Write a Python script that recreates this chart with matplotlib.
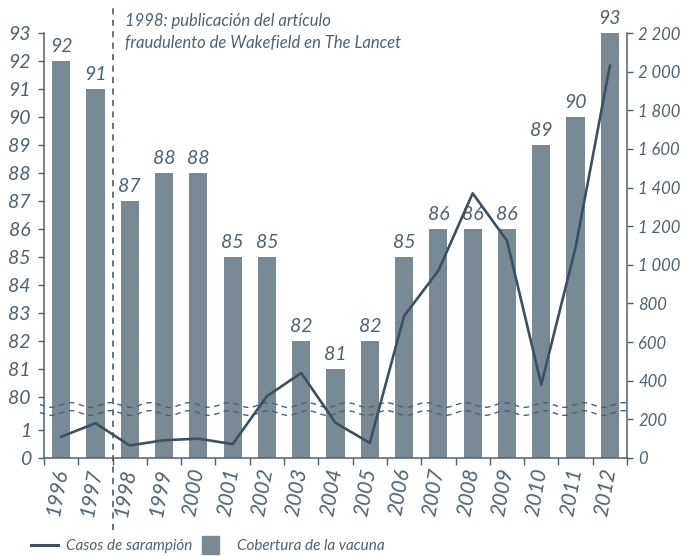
import numpy as np
import matplotlib
matplotlib.use('Agg')
import matplotlib.pyplot as plt
import matplotlib.patches as mpatches
from matplotlib import font_manager
from matplotlib.lines import Line2D
from matplotlib.legend_handler import HandlerPatch
from matplotlib.transforms import ScaledTranslation

# data
years = ['1996', '1997', '1998', '1999', '2000', '2001', '2002', '2003', '2004',
         '2005', '2006', '2007', '2008', '2009', '2010', '2011', '2012']
coverage = [92, 91, 87, 88, 88, 85, 85, 82, 81, 82, 85, 86, 86, 86, 89, 90, 93]
cases = [110, 180, 65, 92, 100, 72, 320, 440, 182, 78, 735, 970, 1370, 1125, 380, 1090, 2030]
left_ticks = [0, 1] + list(range(80, 94))
right_ticks = list(range(0, 2201, 200))

# colours / font
bar_col = '#798a95'
line_col = '#3b5060'
txt_col = '#4e6271'

names = {f.name for f in font_manager.fontManager.ttflist}
fam = 'Liberation Sans Narrow' if 'Liberation Sans Narrow' in names else 'Lato'
plt.rcParams['font.family'] = [fam, 'DejaVu Sans']
plt.rcParams['font.style'] = 'italic'
plt.rcParams['text.color'] = txt_col
plt.rcParams['xtick.color'] = txt_col
plt.rcParams['ytick.color'] = txt_col

# broken left scale: 0..1 then a gap, then 80..93
gap = 1.18

def fwd(v):
    v = np.asarray(v, dtype=float)
    return np.where(v <= 1, v, np.where(v >= 80, v - 80 + 1 + gap, 1 + (v - 1) / 79 * gap))

def inv(u):
    u = np.asarray(u, dtype=float)
    return np.where(u <= 1, u, np.where(u >= 1 + gap, u - 1 - gap + 80, 1 + (u - 1) / gap * 79))

fig = plt.figure(figsize=(6.85, 5.56), dpi=100)
ax = fig.add_axes([44 / 685, 98 / 556, 583 / 685, 425 / 556])
ax2 = ax.twinx()

x = np.arange(len(years))

ax.set_yscale('function', functions=(fwd, inv))
ax.bar(x, coverage, width=0.53, color=bar_col, zorder=2)
ax.set_ylim(0, 93)
ax.set_xlim(-0.5, len(years) - 0.5)
ax.set_yticks(left_ticks)
ax.set_yticklabels([str(t) for t in left_ticks])

for xi, v in zip(x, coverage):
    ax.annotate(str(v), (xi, v), xytext=(0, 4), textcoords='offset points',
                ha='center', va='bottom', fontsize=14, color=txt_col)

# line of cases
ax2.plot(x, cases, color=line_col, lw=1.9, zorder=5)
ax2.set_ylim(0, 2200)
ax2.set_yticks(right_ticks)
ax2.set_yticklabels([f'{t:,}'.replace(',', ' ') for t in right_ticks])

# break marks (wavy dashed lines)
tr = ax2.get_xaxis_transform()
xs = np.linspace(-0.62, len(years) - 0.45, 400)
for yb in (0.1247, 0.1059):
    ax2.plot(xs, yb + 0.0055 * np.sin(xs * 2 * np.pi / 1.15), transform=tr,
             color=txt_col, lw=1.0, dashes=(4, 3.2), clip_on=False, zorder=4)

# axes styling
for a in (ax, ax2):
    a.spines['top'].set_visible(False)
    for s in ('left', 'right', 'bottom'):
        a.spines[s].set_color(txt_col)
        a.spines[s].set_linewidth(1.1)
ax.spines['right'].set_visible(False)
ax2.spines['left'].set_visible(False)
ax2.spines['bottom'].set_visible(False)

ax.tick_params(axis='y', direction='out', length=4.5, width=1.0, labelsize=14, pad=5)
ax2.tick_params(axis='y', direction='out', length=4.5, width=1.0, labelsize=12, pad=3.5)

ax.set_xticks(x)
ax.set_xticklabels(years, rotation=80, fontsize=15, rotation_mode='anchor',
                   ha='right', va='center')
shift = ScaledTranslation(-6 / 72, 0, fig.dpi_scale_trans)
for lab in ax.get_xticklabels():
    lab.set_transform(lab.get_transform() + shift)
ax.set_xticks(np.arange(-0.5, len(years), 1.0), minor=True)
ax.tick_params(axis='x', which='major', length=0, pad=7)
ax.tick_params(axis='x', which='minor', direction='out', length=5, width=1.0)

# 1998 marker line and note
ax.axvline(1.5, ymin=-0.17, ymax=1.06, color=line_col, lw=1.1, dashes=(4, 3.5),
           clip_on=False, zorder=6)
ax.text(1.86, 1.048, '1998: publicación del artículo\nfraudulento de Wakefield en The Lancet',
        transform=ax.get_xaxis_transform(), ha='left', va='top', fontsize=12,
        linespacing=1.5, color=txt_col)

# legend
def square(legend, orig_handle, xdescent, ydescent, width, height, fontsize):
    s = height * 1.6
    return mpatches.Rectangle((-xdescent, -ydescent - (s - height) / 2), s, s)

h_line = Line2D([], [], color=line_col, lw=2.2)
h_bar = mpatches.Patch(color=bar_col)
fig.legend([h_line, h_bar], ['Casos de sarampión', 'Cobertura de la vacuna'],
           loc='lower left', bbox_to_anchor=(0.025, -0.02), ncol=2, frameon=False,
           fontsize=11, handlelength=1.8, handletextpad=0.5, columnspacing=0.6,
           handler_map={h_bar: HandlerPatch(patch_func=square)})

fig.savefig('out.png', dpi=100)
